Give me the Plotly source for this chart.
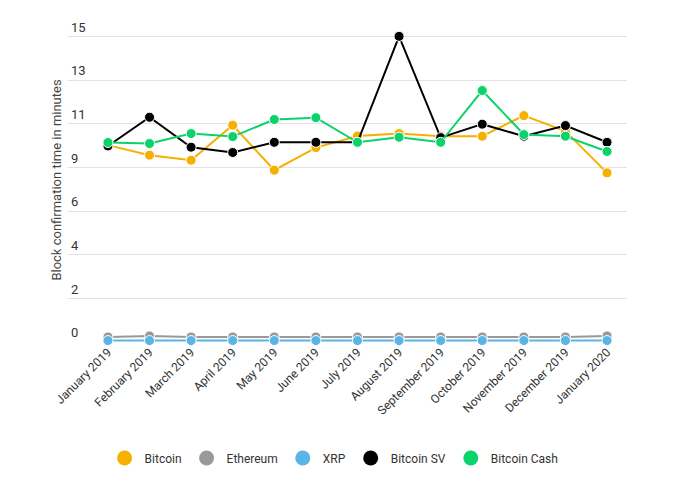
import plotly.graph_objects as go

months = ["January 2019", "February 2019", "March 2019", "April 2019", "May 2019",
          "June 2019", "July 2019", "August 2019", "September 2019", "October 2019",
          "November 2019", "December 2019", "January 2020"]

bitcoin = [9.66, 9.17, 8.92, 10.64, 8.43, 9.54, 10.11, 10.23, 10.1, 10.1, 11.11, 10.35, 8.30]
ethereum = [0.25, 0.3, 0.25, 0.25, 0.25, 0.25, 0.25, 0.25, 0.25, 0.25, 0.25, 0.25, 0.3]
xrp = [0.07] * 13
bitcoin_sv = [9.62, 11.03, 9.56, 9.30, 9.80, 9.80, 9.80, 15.0, 10.03, 10.69, 10.1, 10.62, 9.80]
bitcoin_cash = [9.79, 9.74, 10.23, 10.08, 10.92, 11.01, 9.80, 10.05, 9.80, 12.34, 10.18, 10.1, 9.35]

series = [
    ("Bitcoin", bitcoin, "#f5b000"),
    ("Ethereum", ethereum, "#999999"),
    ("XRP", xrp, "#5ab4e5"),
    ("Bitcoin SV", bitcoin_sv, "#000000"),
    ("Bitcoin Cash", bitcoin_cash, "#0ad36a"),
]

tick_vals = [15 * i / 7 for i in range(8)]
tick_text = [f"{v:.0f}" for v in tick_vals]

fig = go.Figure()
for name, vals, color in series:
    fig.add_trace(go.Scatter(
        x=list(range(len(months))), y=vals, name=name, mode="lines+markers",
        line=dict(color=color, width=2),
        marker=dict(color=color, size=10, line=dict(color="white", width=1)),
        showlegend=False, cliponaxis=False,
    ))
for name, vals, color in series:
    fig.add_trace(go.Scatter(
        x=[None], y=[None], name=name, mode="markers",
        marker=dict(color=color, size=15), showlegend=True,
    ))

fig.update_layout(
    width=673, height=480,
    margin=dict(l=60, r=54, t=10, b=146),
    paper_bgcolor="white", plot_bgcolor="white",
    font=dict(family="Roboto, Arial, sans-serif", color="#333333", size=12),
    legend=dict(orientation="h", x=0.476, xanchor="center", xref="paper",
                y=0.0625, yanchor="middle", yref="container",
                font=dict(size=12, color="#333333"), itemwidth=30, tracegroupgap=0),
    xaxis=dict(
        range=[-0.96, 12.48], tickmode="array", tickvals=list(range(len(months))),
        ticktext=months, tickangle=-45, showgrid=False, zeroline=False,
        showline=False, ticks="", tickfont=dict(size=12, color="#333333"),
        automargin=False,
    ),
    yaxis=dict(
        range=[0, 15.9], tickmode="array", tickvals=tick_vals, ticktext=tick_text,
        ticklabelposition="inside top", showgrid=True, gridcolor="#e2e2e2", gridwidth=1,
        zeroline=False, showline=False, ticks="", tickfont=dict(size=13, color="#333333"),
        title=dict(text="Block confirmation time in minutes", standoff=6,
                   font=dict(size=13, color="#444444")),
        automargin=False,
    ),
)

fig.write_html("out.html")
